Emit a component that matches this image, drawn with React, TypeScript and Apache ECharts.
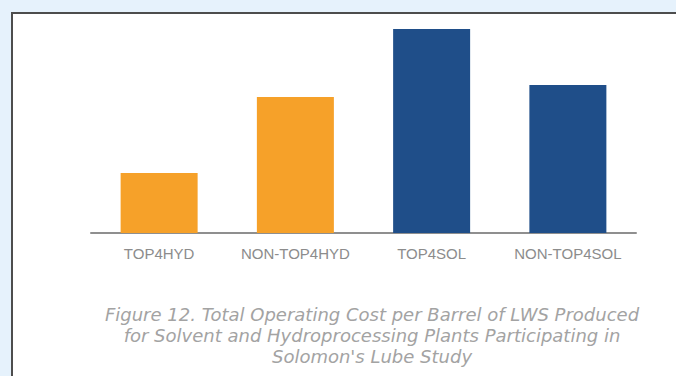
import React, { useEffect, useRef } from "react";
import * as echarts from "echarts";

// Plant groups and their total operating cost per barrel (relative units)
const categories = ["TOP4HYD", "NON-TOP4HYD", "TOP4SOL", "NON-TOP4SOL"];
const costValues = [3.0, 6.8, 10.2, 7.4];
const barColors = ["#F6A129", "#F6A129", "#1F4E89", "#1F4E89"];
const captionLines = [
  "Figure 12. Total Operating Cost per Barrel of LWS Produced",
  "for Solvent and Hydroprocessing Plants Participating in",
  "Solomon's Lube Study",
];

export default function App() {
  const ref = useRef<HTMLDivElement>(null);

  useEffect(() => {
    if (!ref.current) return;
    const chart = echarts.init(ref.current, null, { renderer: "svg" });
    chart.setOption({
      animation: false,
      backgroundColor: "#E6F2FC",
      graphic: [
        {
          type: "rect",
          z: -10,
          shape: { x: 12, y: 13, width: 700, height: 400 },
          style: { fill: "#FFFFFF", stroke: "#4D4D4D", lineWidth: 2 },
          silent: true,
        },
        ...captionLines.map((line, i) => ({
          type: "text",
          x: 372,
          y: 314 + i * 21,
          style: {
            text: line,
            fill: "#A3A3A3",
            font: "italic 18px 'DejaVu Sans', sans-serif",
            textAlign: "center",
            textVerticalAlign: "middle",
          },
          silent: true,
        })),
      ],
      grid: { left: 91, right: 40, top: 13, bottom: 143 },
      xAxis: {
        type: "category",
        data: categories,
        axisLine: { lineStyle: { color: "#8F8F8F", width: 2 } },
        axisTick: { show: false },
        axisLabel: {
          interval: 0,
          color: "#8C8C8C",
          fontSize: 15,
          fontFamily: "'Liberation Sans', Arial, sans-serif",
          margin: 13,
        },
      },
      yAxis: {
        type: "value",
        min: 0,
        max: 11,
        show: false,
        splitLine: { show: false },
      },
      series: [
        {
          type: "bar",
          data: costValues.map((v, i) => ({
            value: v,
            itemStyle: { color: barColors[i] },
          })),
          barWidth: 77,
        },
      ],
    });
    return () => chart.dispose();
  }, []);

  return (
    <div
      ref={ref}
      style={{ position: "fixed", left: 0, top: 0, width: 676, height: 376 }}
    />
  );
}
